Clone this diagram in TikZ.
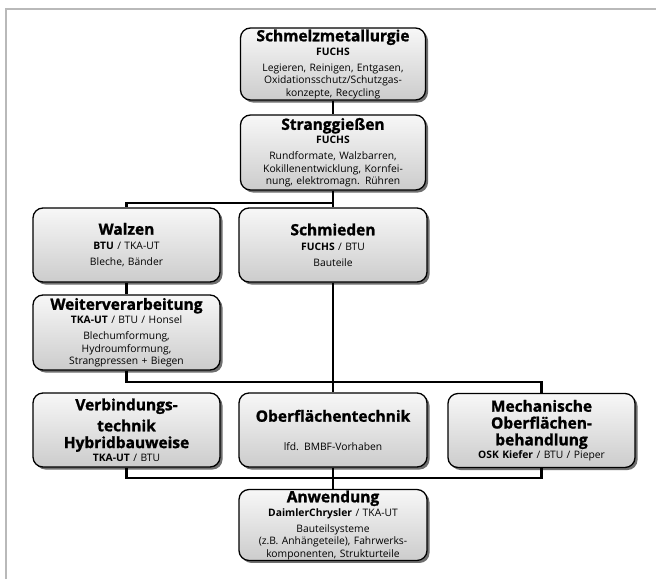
\documentclass[tikz,border=0pt]{standalone}
\usepackage{fontspec}
\setmainfont{Open Sans}
\newfontfamily\heavyfam{Open Sans}[BoldFeatures={FakeBold=1.3}]
\usetikzlibrary{shadows}
\newcommand{\ttl}{\fontsize{15.5}{17}\heavyfam\bfseries\selectfont}
\newcommand{\sbt}{\fontsize{10.3}{12}\selectfont}
\newcommand{\bdy}{\fontsize{10.3}{12.3}\selectfont}
\tikzset{
  procbox/.style={draw=black, line width=1.3pt, rounded corners=10pt,
    top color=gray!6, bottom color=gray!40,
    drop shadow={shadow xshift=2.5pt, shadow yshift=-2.5pt, fill=black!70, opacity=0.8},
    minimum height=74pt, text width=182pt, align=center, inner sep=1pt, font=\bdy},
  link/.style={draw=black, line width=2.5pt},
  frameline/.style={draw=gray!55, line width=2pt}
}
\begin{document}
\begin{tikzpicture}[x=1pt,y=-1pt]
\useasboundingbox (0,0) rectangle (656,579);
\fill[white] (0,0) rectangle (656,579);
\draw[frameline] (6,579) -- (6,8.5) -- (656,8.5);

\node[procbox, minimum width=185pt, minimum height=72pt] (smelt) at (333,64)
  {{\ttl Schmelzmetallurgie}\\[1.5pt]{\sbt\bfseries FUCHS}\\[4pt]Legieren, Reinigen, Entgasen,\\Oxidationsschutz/Schutzgas-\\konzepte, Recycling};
\node[procbox, minimum width=185pt, minimum height=75pt] (strang) at (333,152.5)
  {{\ttl Stranggießen}\\[1.5pt]{\sbt\bfseries FUCHS}\\[4pt]Rundformate, Walzbarren,\\Kokillenentwicklung, Kornfei-\\nung, elektromagn. Rühren};
\node[procbox, minimum width=187pt] (walzen) at (126.5,245)
  {{\ttl Walzen}\\[2.5pt]{\sbt\textbf{BTU} / TKA-UT}\\[4pt]Bleche, Bänder};
\node[procbox, minimum width=188pt] (schmieden) at (333,245)
  {{\ttl Schmieden}\\[2.5pt]{\sbt\textbf{FUCHS} / BTU}\\[4pt]Bauteile};
\node[procbox, minimum width=187pt, minimum height=75pt] (weiter) at (126.5,332.5)
  {{\ttl Weiterverarbeitung}\\[1.5pt]{\sbt\textbf{TKA-UT} / BTU / Honsel}\\[4pt]Blechumformung,\\Hydroumformung,\\Strangpressen + Biegen};
\node[procbox, minimum width=187pt] (verb) at (126.5,430)
  {{\ttl Verbindungs-}\\[4.5pt]{\ttl technik}\\[4.5pt]{\ttl Hybridbauweise}\\[1pt]{\sbt\textbf{TKA-UT} / BTU}};
\node[procbox, minimum width=188pt] (ober) at (333,430)
  {{\ttl Oberflächentechnik}\\[16pt]lfd. BMBF-Vorhaben};
\node[procbox, minimum width=187pt] (mech) at (541.5,430.5)
  {{\ttl Mechanische}\\[4.5pt]{\ttl Oberflächen-}\\[4.5pt]{\ttl behandlung}\\[1pt]{\sbt\textbf{OSK Kiefer} / BTU / Pieper}};
\node[procbox, minimum width=188pt, minimum height=66pt] (anw) at (333,525)
  {{\ttl Anwendung}\\[1.5pt]{\sbt\textbf{DaimlerChrysler} / TKA-UT}\\[4pt]Bauteilsysteme\\(z.B. Anhängeteile), Fahrwerks-\\komponenten, Strukturteile};

\coordinate (j1) at (333,203);
\coordinate (j2) at (333,382);
\coordinate (j3) at (333,478);

\draw[link] (smelt) -- (strang);
\draw[link] (strang) -- (j1) -- (schmieden);
\draw[link] (j1) -| (walzen);
\draw[link] (walzen) -- (weiter);
\draw[link] (schmieden) -- (j2) -- (ober);
\draw[link] (weiter) |- (j2);
\draw[link] (j2) -| (mech);
\draw[link] (verb) |- (j3);
\draw[link] (ober) -- (j3) -- (anw);
\draw[link] (j3) -| (mech);
\end{tikzpicture}
\end{document}
